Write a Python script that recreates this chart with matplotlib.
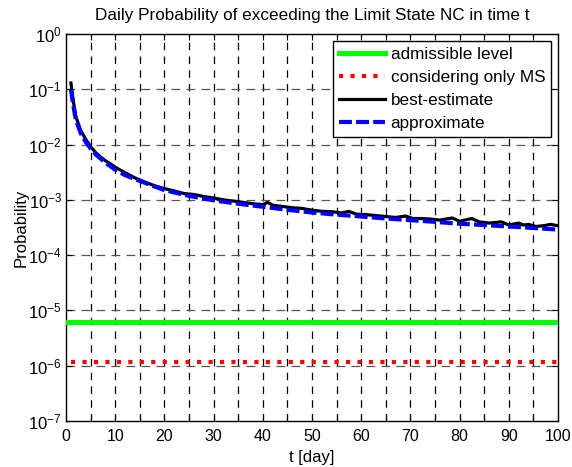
import math
import matplotlib
matplotlib.use("Agg")
import matplotlib.pyplot as plt
from matplotlib.ticker import FixedLocator, NullLocator, FuncFormatter

plt.rcParams['font.family'] = ['Liberation Sans', 'DejaVu Sans']

# ---- data ----
t_best = [1, 1.5, 2, 3, 4, 5, 6, 7, 8, 9, 10, 12, 14, 16, 18, 20, 22, 24, 26, 28,
          30, 32, 34, 36, 38, 40, 41, 42, 44, 46, 48, 50, 52, 54, 56, 57.5, 59,
          61, 63, 65, 67, 69, 70.5, 72, 74, 76, 78.5, 80, 82.5, 84, 86, 88.5, 90,
          92, 93, 94, 95.5, 97, 98.5, 100]
p_best = [0.13, 0.06, 0.032, 0.018, 0.0125, 0.0092, 0.0072, 0.006, 0.0051, 0.0045,
          0.0039, 0.0031, 0.0025, 0.0021, 0.0018, 0.0016, 0.00145, 0.0013, 0.00125,
          0.00115, 0.00108, 0.00100, 0.00095, 0.00090, 0.00085, 0.00082, 0.00090,
          0.00080, 0.00076, 0.00072, 0.00070, 0.00065, 0.00062, 0.00061, 0.00058,
          0.00062, 0.00055, 0.00054, 0.00052, 0.00050, 0.00048, 0.00051, 0.00046,
          0.00046, 0.00045, 0.00043, 0.00047, 0.00041, 0.00046, 0.00040, 0.00038,
          0.00040, 0.00035, 0.00038, 0.00035, 0.00036, 0.00033, 0.00034, 0.00036,
          0.00034]

t_approx = [1, 1.5, 2, 3, 4, 5, 6, 7, 8, 10, 12, 15, 20, 25, 30, 35, 40, 45, 50,
            55, 60, 65, 70, 75, 80, 85, 90, 95, 100]
p_approx = [0.10, 0.05, 0.028, 0.016, 0.0112, 0.0085, 0.0067, 0.0056, 0.0047,
            0.0035, 0.0028, 0.0022, 0.0015, 0.00118, 0.00098, 0.00085, 0.00075,
            0.00066, 0.00059, 0.00054, 0.0005, 0.00046, 0.00043, 0.0004, 0.00037,
            0.00035, 0.00033, 0.00031, 0.00029]

t_admissible = [0, 100]
p_admissible = [6.1e-6, 6.1e-6]
t_ms = [1, 100]
p_ms = [1.15e-6, 1.15e-6]

labels = ['admissible level', 'considering only MS', 'best-estimate', 'approximate']
x_ticks = [0, 10, 20, 30, 40, 50, 60, 70, 80, 90, 100]
y_ticks = [1e-7, 1e-6, 1e-5, 1e-4, 1e-3, 1e-2, 1e-1, 1e0]

# ---- figure ----
fig = plt.figure(figsize=(5.72, 4.67), dpi=100)
ax = fig.add_axes([66/572, 1-421/467, (558-66)/572, (421-34)/467])

ax.plot(t_admissible, p_admissible, color='#00ff00', lw=3.6, label=labels[0], zorder=3)
ax.plot(t_ms, p_ms, color='#ff0000', lw=3.0, linestyle=(0, (1.0, 1.75)),
        dash_capstyle='butt', label=labels[1], zorder=3)
ax.plot(t_best, p_best, color='black', lw=2.3, label=labels[2], zorder=4)
ax.plot(t_approx, p_approx, color='#0000ff', lw=3.0, linestyle=(0, (3.1, 1.0)),
        dash_capstyle='butt', label=labels[3], zorder=5)

ax.set_yscale('log')
ax.set_xlim(0, 100)
ax.set_ylim(1e-7, 1e0)

ax.xaxis.set_major_locator(FixedLocator(x_ticks))
ax.xaxis.set_minor_locator(FixedLocator([5 + 10*i for i in range(10)]))
ax.yaxis.set_major_locator(FixedLocator(y_ticks))
ax.yaxis.set_minor_locator(NullLocator())

def fmt(v, pos):
    e = int(round(math.log10(v)))
    return r'$\mathregular{10^{%d}}$' % e
ax.yaxis.set_major_formatter(FuncFormatter(fmt))

ax.tick_params(which='both', direction='in', top=True, right=True,
               length=4, width=0.8, colors='black')
ax.tick_params(axis='x', which='major', pad=6, labelsize=11.5)
ax.tick_params(axis='y', which='major', pad=3, labelsize=12)

# grid
for xv in range(5, 100, 5):
    ax.axvline(xv, color='black', lw=0.9, linestyle=(0, (6, 5)), zorder=1)
for yv in y_ticks[1:-1]:
    ax.axhline(yv, color='#555555', lw=0.9, linestyle=(0, (7, 5)), zorder=1)

for s in ax.spines.values():
    s.set_linewidth(1.0)
    s.set_color('black')

ax.set_title('Daily Probability of exceeding the Limit State NC in time t',
             fontsize=12.3, pad=10)
ax.set_xlabel('t [day]', fontsize=12, labelpad=4)
ax.set_ylabel('Probability', fontsize=12, labelpad=0)

leg = ax.legend(loc='upper right', fontsize=12.3, frameon=True, fancybox=False,
                framealpha=1, edgecolor='black', handlelength=2.7,
                handletextpad=0.3, labelspacing=0.48, borderpad=0.35,
                borderaxespad=0.4)
leg.get_frame().set_linewidth(1.0)

fig.savefig('out.png', dpi=100)
